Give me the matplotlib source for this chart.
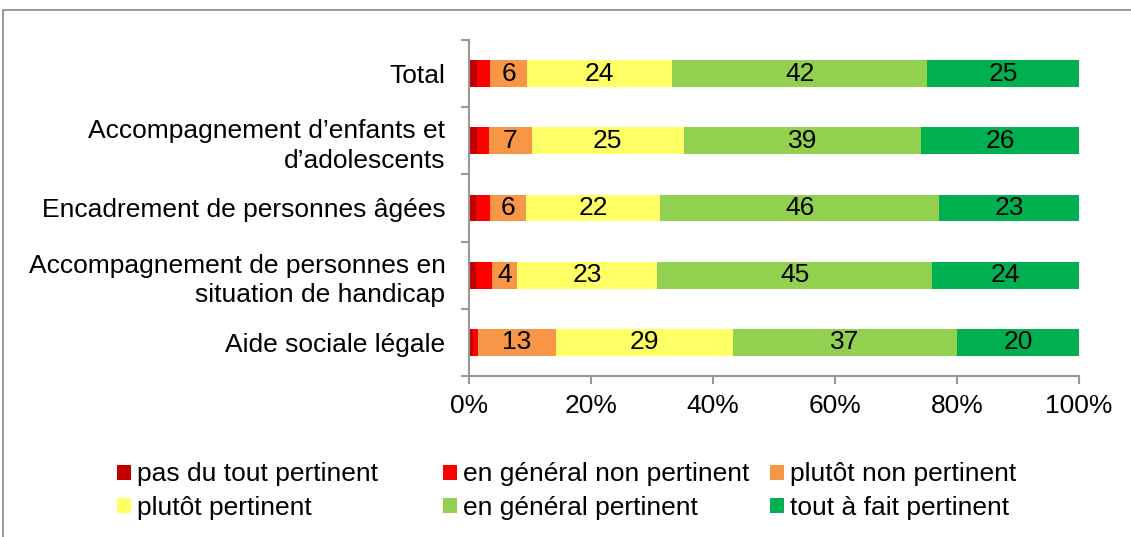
import matplotlib.pyplot as plt
import numpy as np
from matplotlib.patches import Rectangle

plt.rcParams['font.family'] = ['Liberation Sans', 'DejaVu Sans']

categories = ["Total",
              "Accompagnement d’enfants et\nd’adolescents",
              "Encadrement de personnes âgées",
              "Accompagnement de personnes en\nsituation de handicap",
              "Aide sociale légale"]

series_names = ["pas du tout pertinent", "en général non pertinent", "plutôt non pertinent",
                "plutôt pertinent", "en général pertinent", "tout à fait pertinent"]

pas_du_tout = [1.3, 1.3, 1.1, 1.2, 0.6]
gen_non = [2.2, 2.0, 2.3, 2.6, 0.8]
plutot_non = [6, 7, 6, 4, 13]
plutot_oui = [24, 25, 22, 23, 29]
gen_oui = [42, 39, 46, 45, 37]
tout_a_fait = [25, 26, 23, 24, 20]

colors = ['#C00000', '#FF0000', '#F79646', '#FFFF66', '#92D050', '#00B050']

raw = [pas_du_tout, gen_non, plutot_non, plutot_oui, gen_oui, tout_a_fait]
data = np.array(raw)
data = data / data.sum(axis=0) * 100

fig = plt.figure(figsize=(11.31, 5.37), dpi=100)
ax = fig.add_axes([469/1131, 1 - 376/537, 610/1131, 336/537])

y = np.arange(len(categories))
left = np.zeros(len(categories))
for i, (name, vals) in enumerate(zip(series_names, data)):
    ax.barh(y, vals, left=left, height=0.4, color=colors[i], label=name)
    if i >= 2:
        for yy, l, v, r in zip(y, left, vals, raw[i]):
            ax.text(l + v / 2, yy, f"{r:g}", ha='center', va='center', fontsize=19, color='black')
    left += vals

ax.set_ylim(len(categories) - 0.5, -0.5)
ax.set_xlim(0, 100)
ax.set_yticks(y)
ax.set_yticklabels(categories, fontsize=19, linespacing=1.3)
ax.set_yticks(np.arange(-0.5, len(categories)), minor=True)
ax.tick_params(axis='y', which='major', length=0, pad=17)
ax.tick_params(axis='y', which='minor', length=6, color='#999999', width=1.5)
ax.set_xticks(np.arange(0, 101, 20))
ax.set_xticklabels([f"{v}%" for v in range(0, 101, 20)], fontsize=19)
ax.tick_params(axis='x', length=6, color='#999999', width=1.5, pad=7)
for s in ['top', 'right']:
    ax.spines[s].set_visible(False)
for s in ['left', 'bottom']:
    ax.spines[s].set_color('#999999')
    ax.spines[s].set_linewidth(1.5)

# legend: three columns placed separately, filled row by row
handles, labels = ax.get_legend_handles_labels()
col_x = [99, 425, 752]
for c in range(3):
    idx = [c, c + 3]
    fig.legend([handles[i] for i in idx], [labels[i] for i in idx], ncol=1,
               loc='upper left', bbox_to_anchor=(col_x[c]/1131, 1 - 444/537), frameon=False,
               fontsize=19, handlelength=0.5, handleheight=0.5, handletextpad=0.25,
               labelspacing=0.35, borderpad=0.2)

fig.patches.append(Rectangle((3/1131, -0.1), 1.2, 1 - 10/537 + 0.1, transform=fig.transFigure,
                             fill=False, edgecolor='#888888', linewidth=1.2))

fig.savefig('out.png', dpi=100)
